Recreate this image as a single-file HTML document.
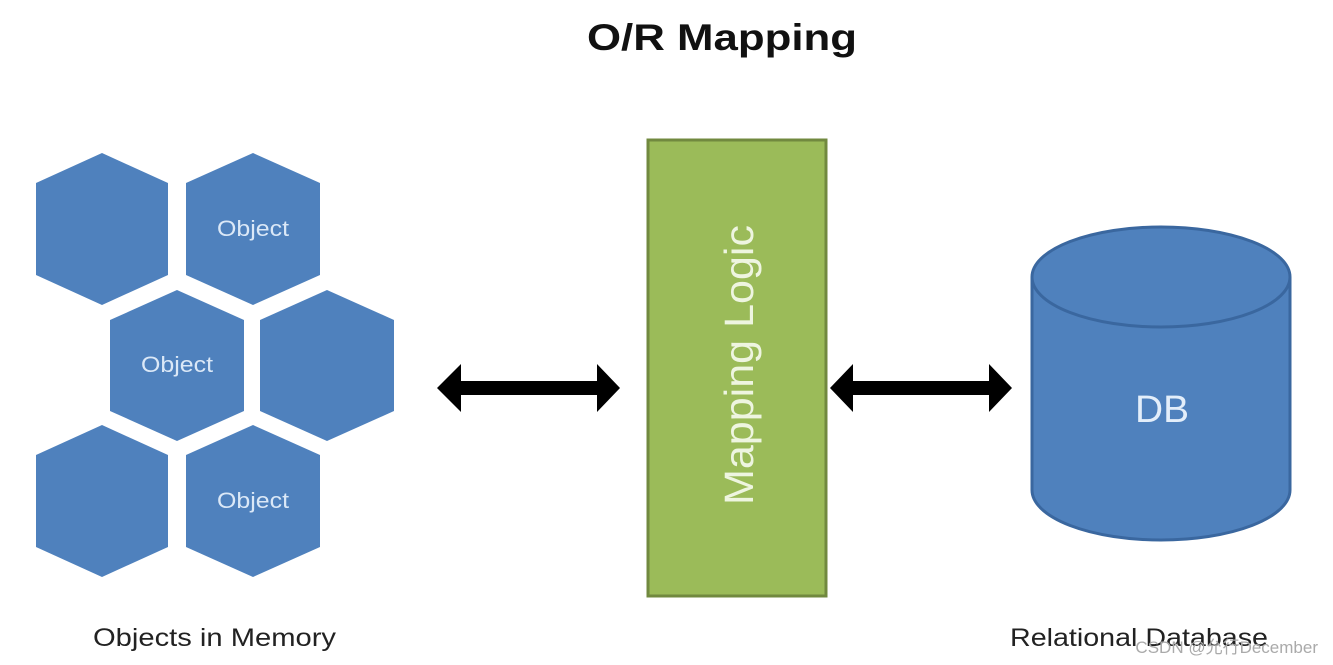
<!DOCTYPE html>
<html><head><style>
body{margin:0;background:#fff;}
svg{display:block;}
</style></head><body>
<svg width="1333" height="665" viewBox="0 0 1333 665" xmlns="http://www.w3.org/2000/svg" font-family="'Liberation Sans','Noto Sans CJK SC',sans-serif">
<text x="722" y="50" text-anchor="middle" font-size="37" font-weight="bold" fill="#111" textLength="270" lengthAdjust="spacingAndGlyphs">O/R Mapping</text>
<g fill="#4f81bd">
<polygon points="102,153 168,183 168,275 102,305 36,275 36,183"/>
<polygon points="253,153 320,183 320,275 253,305 186,275 186,183"/>
<polygon points="177,290 244,320 244,411 177,441 110,411 110,320"/>
<polygon points="327,290 394,320 394,411 327,441 260,411 260,320"/>
<polygon points="102,425 168,455 168,547 102,577 36,547 36,455"/>
<polygon points="253,425 320,455 320,547 253,577 186,547 186,455"/>
</g>
<g fill="#dbe8f7" font-size="22">
<text x="217" y="236" textLength="72" lengthAdjust="spacingAndGlyphs">Object</text>
<text x="141" y="372" textLength="72" lengthAdjust="spacingAndGlyphs">Object</text>
<text x="217" y="508" textLength="72" lengthAdjust="spacingAndGlyphs">Object</text>
</g>
<rect x="648" y="140" width="178" height="456" fill="#9bbb59" stroke="#71893f" stroke-width="3"/>
<text transform="translate(753,505) rotate(-90)" font-size="41" fill="#eef5e0" textLength="280" lengthAdjust="spacingAndGlyphs">Mapping Logic</text>
<polygon points="437,388 461,364 461,381 597,381 597,364 620,388 597,412 597,395 461,395 461,412" fill="#000"/>
<polygon points="830,388 853,364 853,381 989,381 989,364 1012,388 989,412 989,395 853,395 853,412" fill="#000"/>
<path d="M1032,277 L1032,490 A129,50 0 0 0 1290,490 L1290,277" fill="#4f81bd" stroke="#3a679f" stroke-width="3"/>
<ellipse cx="1161" cy="277" rx="129" ry="50" fill="#4f81bd" stroke="#3a679f" stroke-width="3"/>
<text x="1135" y="422" font-size="38" fill="#e3eefa" textLength="54" lengthAdjust="spacingAndGlyphs">DB</text>
<text x="93" y="646" font-size="25" fill="#222" textLength="243" lengthAdjust="spacingAndGlyphs">Objects in Memory</text>
<text x="1010" y="646" font-size="25" fill="#222" textLength="258" lengthAdjust="spacingAndGlyphs">Relational Database</text>
<text x="1318" y="653" text-anchor="end" font-size="17" fill="#aaa">CSDN @允行December</text>
</svg>
</body></html>
